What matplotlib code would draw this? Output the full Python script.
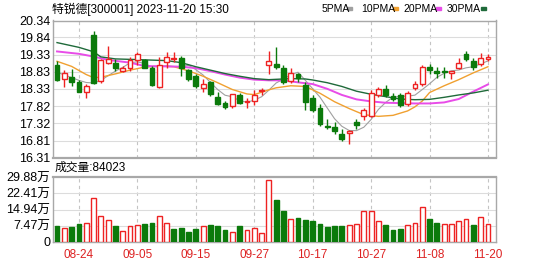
import numpy as np
import pandas as pd
import matplotlib
matplotlib.use("Agg")
import matplotlib.pyplot as plt
from matplotlib.patches import Rectangle

plt.rcParams['font.family'] = ['Liberation Sans', 'Noto Sans CJK SC', 'DejaVu Sans']

title = "特锐德[300001] 2023-11-20 15:30"
vol_title = "成交量:84023"

dates = ["08-21", "08-22", "08-23", "08-24", "08-25", "08-28", "08-29", "08-30", "08-31", "09-01",
         "09-04", "09-05", "09-06", "09-07", "09-08", "09-11", "09-12", "09-13", "09-14", "09-15",
         "09-18", "09-19", "09-20", "09-21", "09-22", "09-25", "09-26", "09-27", "09-28", "10-09",
         "10-10", "10-11", "10-12", "10-13", "10-16", "10-17", "10-18", "10-19", "10-20", "10-23",
         "10-24", "10-25", "10-26", "10-27", "10-30", "10-31", "11-01", "11-02", "11-03", "11-06",
         "11-07", "11-08", "11-09", "11-10", "11-13", "11-14", "11-15", "11-16", "11-17", "11-20"]
tick_dates = ["08-24", "09-05", "09-15", "09-27", "10-17", "10-27", "11-08", "11-20"]

open_ = [19.02, 18.63, 18.68, 18.53, 18.25, 19.90, 18.56, 19.09, 19.09, 18.85,
         18.95, 19.17, 19.19, 18.95, 18.39, 19.12, 19.22, 19.24, 18.87, 18.71,
         18.35, 18.52, 18.08, 17.90, 17.83, 18.16, 17.93, 17.96, 18.27, 19.04,
         19.05, 18.95, 18.57, 18.76, 18.45, 18.05, 17.78, 17.24, 17.22, 16.99,
         17.02, 17.34, 17.54, 17.54, 18.16, 18.33, 18.13, 18.16, 17.88, 18.35,
         18.47, 18.98, 18.84, 18.86, 18.81, 18.94, 19.35, 19.15, 19.06, 19.22]
high = [19.14, 18.87, 18.90, 18.60, 18.46, 20.03, 19.21, 19.58, 19.21, 19.00,
        19.27, 19.40, 19.21, 19.00, 19.26, 19.40, 19.40, 19.29, 18.92, 18.76,
        18.61, 18.57, 18.23, 17.97, 18.19, 18.22, 18.05, 18.30, 18.35, 19.43,
        19.55, 19.03, 18.95, 18.81, 18.52, 18.15, 17.88, 17.44, 17.34, 17.14,
        17.13, 17.44, 17.78, 18.29, 18.37, 18.45, 18.20, 18.21, 18.27, 18.57,
        19.04, 19.06, 18.96, 18.96, 18.86, 19.23, 19.43, 19.23, 19.37, 19.35]
low = [18.56, 18.38, 18.41, 18.23, 18.07, 18.46, 18.51, 19.07, 18.85, 18.82,
       18.85, 19.04, 18.93, 18.41, 18.36, 18.95, 19.12, 18.70, 18.56, 18.36,
       18.23, 18.12, 17.84, 17.73, 17.78, 17.87, 17.76, 17.84, 18.15, 18.76,
       18.90, 18.48, 18.51, 18.52, 17.70, 17.65, 17.25, 17.14, 16.99, 16.80,
       16.70, 17.14, 17.41, 17.51, 18.08, 18.08, 17.96, 17.80, 17.83, 18.29,
       18.42, 18.78, 18.66, 18.64, 18.62, 18.91, 19.15, 18.88, 19.01, 19.15]
close = [18.58, 18.80, 18.54, 18.25, 18.41, 18.51, 19.19, 19.22, 18.93, 18.95,
         19.19, 19.34, 18.95, 18.43, 19.04, 19.27, 19.25, 18.93, 18.62, 18.40,
         18.48, 18.17, 17.87, 17.79, 18.17, 17.90, 17.96, 18.16, 18.29, 19.14,
         18.96, 18.53, 18.80, 18.66, 17.95, 17.72, 17.30, 17.20, 17.08, 16.84,
         17.10, 17.28, 17.70, 18.22, 18.32, 18.14, 18.03, 17.86, 18.22, 18.47,
         18.96, 18.88, 18.80, 18.82, 18.84, 19.08, 19.20, 18.96, 19.25, 19.26]
# volume in 万 shares
volume = [7.16, 6.38, 6.85, 8.09, 8.87, 20.4, 12.1, 10.3, 7.16, 4.98,
          7.16, 7.62, 8.09, 8.56, 12.1, 8.87, 6.07, 6.22, 4.51, 5.91,
          7.16, 7.62, 7.16, 5.45, 4.51, 7.16, 5.29, 6.22, 4.20, 28.6,
          19.3, 14.2, 10.4, 10.9, 9.96, 9.49, 8.09, 6.85, 7.31, 7.16,
          7.62, 8.40, 14.2, 14.2, 9.49, 7.94, 5.45, 5.76, 7.62, 8.87,
          15.9, 10.4, 8.56, 8.09, 8.09, 9.49, 10.7, 7.62, 11.7, 8.40]

# MA5 for the first four days (needs earlier closes)
ma5_head = [18.82, 18.74, 18.66, 18.58]
# longer averages at selected days (1-based day number)
ma10_day = [1, 3, 5, 6, 7, 9, 11, 13, 15, 17, 19, 21, 23, 25, 27, 28, 30, 31, 33, 35,
            37, 39, 41, 43, 45, 47, 49, 50, 51, 52, 54, 56, 58, 60]
ma10_val = [19.14, 18.99, 18.75, 18.66, 18.67, 18.77, 18.88, 18.97, 19.00, 18.98,
            18.86, 18.70, 18.51, 18.31, 18.18, 18.16, 18.30, 18.36, 18.42, 18.40,
            18.20, 17.95, 17.75, 17.57, 17.52, 17.55, 17.68, 17.80, 17.97, 18.22,
            18.42, 18.60, 18.80, 18.98]
ma20_day = [1, 4, 6, 8, 11, 13, 16, 18, 20, 22, 24, 26, 28, 30, 32, 34, 36, 38, 40,
            42, 44, 46, 48, 50, 52, 54, 56, 58, 60]
ma20_val = [19.43, 19.36, 19.28, 19.18, 19.10, 19.00, 18.99, 18.98, 18.94, 18.85,
            18.75, 18.66, 18.60, 18.58, 18.58, 18.52, 18.47, 18.33, 18.15, 18.02,
            17.96, 17.92, 17.91, 17.90, 17.90, 17.93, 18.03, 18.25, 18.46]
ma30_day = [1, 4, 6, 7, 9, 12, 16, 18, 20, 22, 24, 26, 28, 30, 33, 35, 36, 38, 40,
            42, 44, 46, 48, 50, 52, 54, 56, 58, 60]
ma30_val = [19.69, 19.55, 19.42, 19.27, 19.21, 19.19, 19.16, 19.10, 18.98, 18.88,
            18.78, 18.70, 18.63, 18.60, 18.63, 18.62, 18.59, 18.51, 18.40, 18.26,
            18.17, 18.10, 18.03, 18.01, 18.02, 18.08, 18.15, 18.21, 18.29]

price_labels = ["16.31", "16.81", "17.32", "17.82", "18.33", "18.83", "19.33", "19.84", "20.34"]
vol_labels = ["0", "7.47万", "14.94万", "22.41万", "29.88万"]
vol_ticks = [0, 7.47, 14.94, 22.41, 29.88]

RED = "#ee2222"
GREEN = "#0b7a0b"
W, H = 549, 262

df = pd.DataFrame({"open": open_, "high": high, "low": low, "close": close, "vol": volume})
x = np.arange(len(df))
ma5 = df["close"].rolling(5).mean().to_numpy()
ma5[:4] = ma5_head
up = df["close"] >= df["open"]
vol_up = df["close"] >= np.r_[df["open"][0], df["close"][:-1]]

fig = plt.figure(figsize=(W / 100, H / 100), dpi=100)
ax = fig.add_axes([53 / W, 1 - 157.5 / H, 443 / W, 137 / H])
ax2 = fig.add_axes([53 / W, 1 - 242 / H, 443 / W, 65 / H])

tick_pos = [dates.index(d) for d in tick_dates]
for a in (ax, ax2):
    a.set_xlim(-0.55, 60.1)
    a.set_xticks(tick_pos)
    for p in tick_pos:
        a.axvline(p, color="#c4c4c4", lw=0.8, ls=(0, (3, 3)), zorder=0)
    a.tick_params(length=0, labelsize=9, pad=2)
    for s in a.spines.values():
        s.set_color("#a8a8a8")
        s.set_linewidth(1)

# price panel
ax.set_ylim(16.31, 20.34)
pt = [float(s) for s in price_labels]
ax.set_yticks(pt)
ax.set_yticklabels(price_labels)
for v in pt[1:-1]:
    ax.axhline(v, color="#dcdcdc", lw=0.8, zorder=0)
ax.set_xticklabels([])
ax.spines["bottom"].set_linewidth(1.6)

ax.plot(x, ma5, color="#a0a0a0", lw=0.8, zorder=2)
ax.plot(np.array(ma10_day) - 1, ma10_val, color="#f0a030", lw=1.0, zorder=2)
ax.plot(np.array(ma20_day) - 1, ma20_val, color="#e84ce8", lw=1.4, zorder=2)
ax.plot(np.array(ma30_day) - 1, ma30_val, color="#1f6a3a", lw=1.0, zorder=2)

colors = np.where(up, RED, GREEN)
ax.vlines(x, df["low"], df["high"], colors=colors, lw=1, zorder=3)
body_lo = np.minimum(df["open"], df["close"])
body_h = np.maximum((df["close"] - df["open"]).abs(), 0.02)
ax.bar(x[up], body_h[up], bottom=body_lo[up], width=0.66, facecolor="white",
       edgecolor=RED, lw=1, zorder=4)
ax.bar(x[~up], body_h[~up], bottom=body_lo[~up], width=0.66, facecolor=GREEN,
       edgecolor=GREEN, lw=1, zorder=4)

# volume panel
ax2.set_ylim(0, 29.88)
ax2.set_yticks(vol_ticks)
ax2.set_yticklabels(vol_labels)
for v in vol_ticks[1:-1]:
    ax2.axhline(v, color="#dcdcdc", lw=0.8, zorder=0)
ax2.spines["top"].set_linewidth(1.6)
ax2.bar(x[vol_up], df["vol"][vol_up], width=0.66, facecolor="white", edgecolor=RED, lw=1, zorder=3)
ax2.bar(x[~vol_up], df["vol"][~vol_up], width=0.66, facecolor=GREEN, edgecolor=GREEN, lw=1, zorder=3)
ax2.set_xticklabels(tick_dates, color="#dd2222", fontsize=8.5)
ax2.tick_params(axis="x", pad=5)

# header texts
fig.text(52 / W, 1 - 9 / H, title, fontsize=8.5, va="center", ha="left")
fig.text(55 / W, 1 - 168 / H, vol_title, fontsize=8.5, va="center", ha="left")

legend = [("5PMA", "#a0a0a0", 322, 347), ("10PMA", "#f0a030", 361, 393),
          ("20PMA", "#e84ce8", 403, 436), ("30PMA", "#1f6a3a", 447, 481)]
for name, c, tx, dx in legend:
    fig.text(tx / W, 1 - 8.5 / H, name, fontsize=7.5, va="center", ha="left")
    fig.add_artist(Rectangle((dx / W, 1 - 10 / H), 5 / W, 3 / H, color=c,
                             transform=fig.transFigure))

fig.savefig("out.png", dpi=100)
